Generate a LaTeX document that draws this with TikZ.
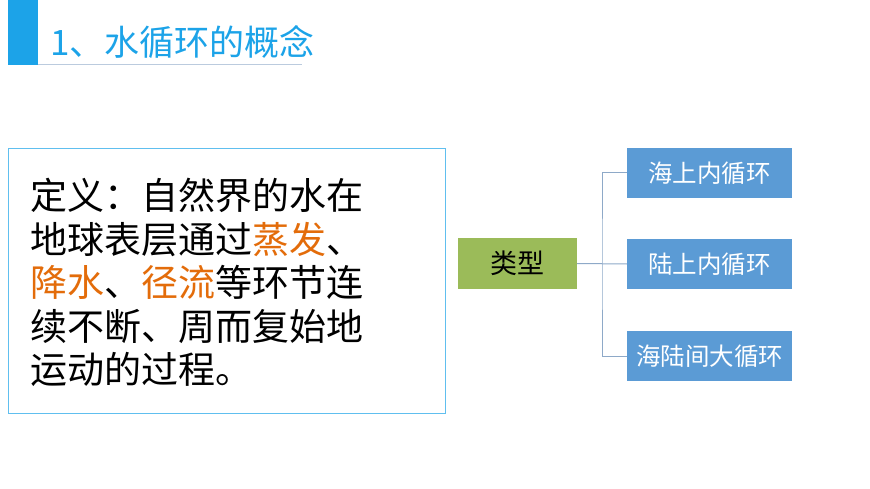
\documentclass[tikz,border=0pt]{standalone}
\usepackage{fontspec}
\setmainfont{Noto Sans CJK SC}
\definecolor{hdr}{HTML}{1CA3E8}
\definecolor{grn}{HTML}{9BBB59}
\definecolor{blu}{HTML}{5B9BD5}
\definecolor{org}{HTML}{E36C0A}
\definecolor{lnk}{HTML}{8EA9C8}
\tikzset{cat/.style={draw=none,fill=blu,minimum width=165pt,minimum height=50pt,text=white,font=\fontsize{24.5}{28}\selectfont,inner sep=0pt},
 link/.style={draw=lnk,line width=1pt}}
\begin{document}
\begin{tikzpicture}[x=1pt,y=-1pt]
\useasboundingbox (0,0) rectangle (870,489);
\fill[hdr] (8,0) rectangle (38,65);
\draw[draw=lnk!60,line width=1pt] (38,64.5) -- (302,64.5);
\node[anchor=west,text=hdr,font=\fontsize{35}{40}\selectfont,inner sep=0pt] (title) at (50,42) {1、水循环的概念};
\node[draw=hdr!70,line width=1.2pt,minimum width=437pt,minimum height=265pt,anchor=north west] (defbox) at (8,148) {};
\node[anchor=north west,align=left,inner sep=0pt,font=\fontsize{37}{43.5}\selectfont] (deftext) at (30,178) {定义：自然界的水在\\地球表层通过\textcolor{org}{蒸发}、\\\textcolor{org}{降水}、\textcolor{org}{径流}等环节连\\续不断、周而复始地\\运动的过程。};
\node[fill=grn,minimum width=119pt,minimum height=51pt,font=\fontsize{27}{30}\selectfont,inner sep=0pt] (type) at (517.5,263.5) {类型};
\node[cat] (c1) at (709.5,173) {海上内循环};
\node[cat] (c2) at (709.5,264) {陆上内循环};
\node[cat] (c3) at (709.5,356) {海陆间大循环};
\coordinate (j) at (602,264);
\draw[link] (type.east) -- (c2.west);
\draw[link] (c1.west) -| (j) |- (c3.west);
\end{tikzpicture}
\end{document}
